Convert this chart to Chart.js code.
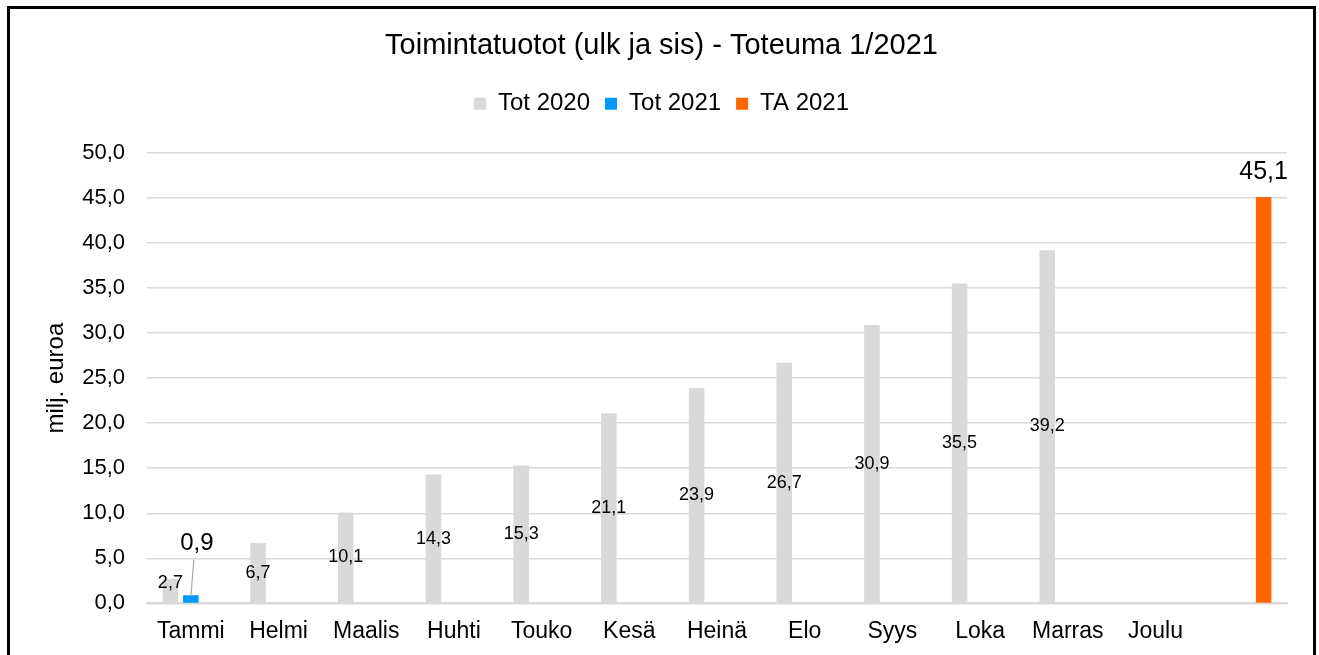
<!DOCTYPE html>
<html>
<head>
<meta charset="utf-8">
<script src="https://cdn.jsdelivr.net/npm/chart.js@4"></script>
<style>
  html, body { margin: 0; padding: 0; background: #fff; }
  #wrap { position: relative; width: 1319px; height: 655px; overflow: hidden; }
  #frame { position: absolute; left: 7px; top: 6px; width: 1303px; height: 700px; border: 3px solid #000; pointer-events: none; }
  canvas { position: absolute; left: 0; top: 0; }
</style>
</head>
<body>
<div id="wrap">
  <canvas id="chart" width="1319" height="655"></canvas>
  <div id="frame"></div>
</div>
<script>
const months = ['Tammi', 'Helmi', 'Maalis', 'Huhti', 'Touko', 'Kesä', 'Heinä', 'Elo', 'Syys', 'Loka', 'Marras', 'Joulu', ''];
const tot2020 = [2.7, 6.7, 10.1, 14.3, 15.3, 21.1, 23.9, 26.7, 30.9, 35.5, 39.2, null, null];
const tot2021 = [0.9, null, null, null, null, null, null, null, null, null, null, null, null];
const ta2021 = [null, null, null, null, null, null, null, null, null, null, null, null, 45.1];

const FONT = "'Liberation Sans', Arial, sans-serif";
const fmt = v => v.toFixed(1).replace('.', ',');

// extra room under the legend
const legendMargin = {
  id: 'legendMargin',
  beforeInit(chart) {
    const fit = chart.legend.fit;
    chart.legend.fit = function () {
      fit.bind(chart.legend)();
      this.height += 27;
    };
  }
};

const valueLabels = {
  id: 'valueLabels',
  afterDatasetsDraw(chart) {
    const ctx = chart.ctx;
    ctx.save();
    ctx.fillStyle = '#000';
    ctx.textAlign = 'center';
    ctx.textBaseline = 'middle';
    chart.data.datasets.forEach((ds, i) => {
      chart.getDatasetMeta(i).data.forEach((bar, j) => {
        const v = ds.data[j];
        if (v == null) return;
        if (i === 0) {
          ctx.font = '18px ' + FONT;
          const y = Math.min((bar.y + bar.base) / 2, bar.base - 20);
          ctx.fillText(fmt(v), bar.x, y);
        } else if (i === 1) {
          ctx.strokeStyle = '#a6a6a6';
          ctx.lineWidth = 1.2;
          ctx.beginPath();
          ctx.moveTo(bar.x + 3, bar.y - 35);
          ctx.lineTo(bar.x, bar.y + 1);
          ctx.stroke();
          ctx.font = '24px ' + FONT;
          ctx.fillText(fmt(v), bar.x + 6, bar.y - 52);
        } else {
          ctx.font = '25px ' + FONT;
          ctx.fillText(fmt(v), bar.x, bar.y - 25);
        }
      });
    });
    ctx.restore();
  }
};

new Chart(document.getElementById('chart'), {
  type: 'bar',
  data: {
    labels: months,
    datasets: [
      { label: 'Tot 2020', data: tot2020, backgroundColor: '#d9d9d9', borderWidth: 0 },
      { label: 'Tot 2021', data: tot2021, backgroundColor: '#0099ff', borderWidth: 0 },
      { label: 'TA 2021', data: ta2021, backgroundColor: '#ff6600', borderWidth: 0 }
    ]
  },
  options: {
    responsive: false,
    animation: false,
    categoryPercentage: 0.70,
    barPercentage: 0.76,
    layout: { padding: { top: 10, left: 36, right: 32, bottom: -4 } },
    plugins: {
      title: {
        display: true,
        text: 'Toimintatuotot (ulk ja sis) - Toteuma 1/2021',
        color: '#000',
        font: { family: FONT, size: 29, weight: 'normal' },
        padding: { top: 19, bottom: 13 }
      },
      legend: {
        labels: {
          color: '#000',
          font: { family: FONT, size: 24 },
          boxWidth: 12,
          boxHeight: 12,
          padding: 15
        }
      },
      tooltip: { enabled: false }
    },
    scales: {
      x: {
        grid: { display: false, drawTicks: false },
        border: { display: true, color: '#d9d9d9', width: 2 },
        ticks: { color: '#000', font: { family: FONT, size: 23 }, padding: 14, maxRotation: 0, autoSkip: false }
      },
      y: {
        min: 0,
        max: 50,
        afterFit(scale) { scale.width = 111; },
        grid: { color: '#d9d9d9', lineWidth: 1.5, drawTicks: false },
        border: { display: false },
        ticks: {
          stepSize: 5,
          color: '#000',
          font: { family: FONT, size: 22 },
          padding: 22,
          callback: v => fmt(v)
        },
        title: {
          display: true,
          text: 'milj. euroa',
          color: '#000',
          font: { family: FONT, size: 24 },
          padding: { top: 6, bottom: 0 }
        }
      }
    }
  },
  plugins: [legendMargin, valueLabels]
});
</script>
</body>
</html>
